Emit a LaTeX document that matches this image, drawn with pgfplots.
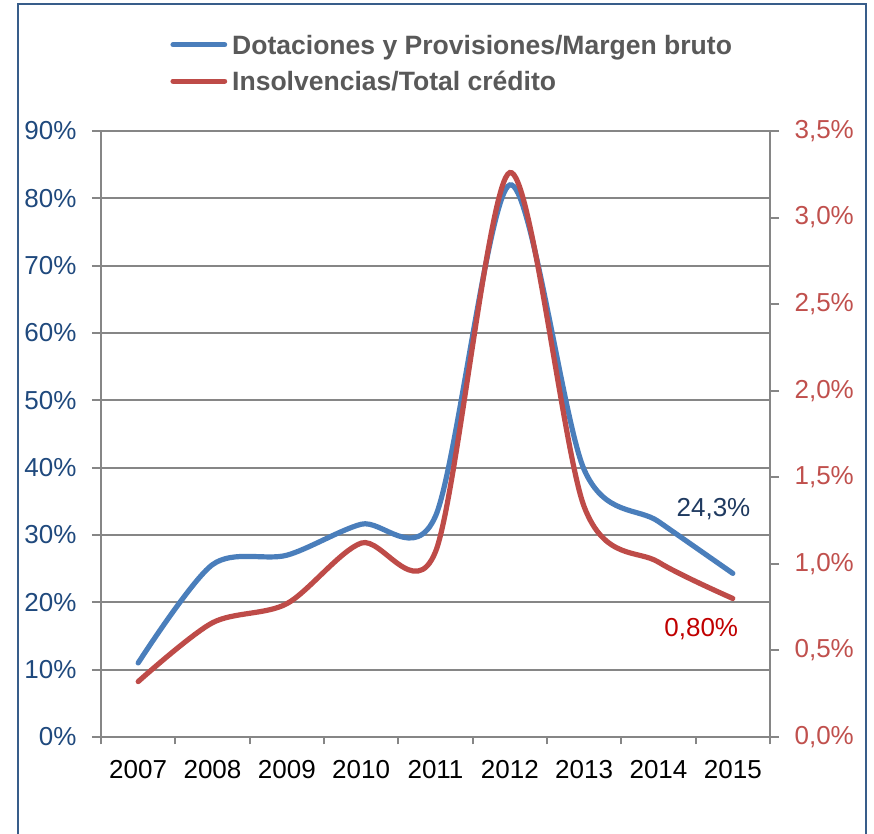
\documentclass[border=0pt]{standalone}
\usepackage{fontspec}
\setmainfont{Liberation Sans}
\usepackage{pgfplots}
\pgfplotsset{compat=1.18}
\definecolor{blueL}{HTML}{4A7EBB}
\definecolor{redL}{HTML}{BE4B48}
\definecolor{navy}{HTML}{1F497D}
\definecolor{navyD}{HTML}{1F3A60}
\definecolor{redT}{HTML}{C0504D}
\definecolor{darkred}{HTML}{C00000}
\definecolor{gridg}{HTML}{868686}
\definecolor{frame}{HTML}{385D8A}
\definecolor{legg}{HTML}{595959}
\newcommand{\tfont}{\fontsize{19.5}{23}\selectfont}
\begin{document}
\begin{tikzpicture}
\path[use as bounding box] (0,0) rectangle (655.5pt,624.75pt);
\draw[frame, line width=1.5pt] (13.5pt,-2pt) -- (13.5pt,622.1pt) -- (649.5pt,622.1pt) -- (649.5pt,-2pt);
\pgfplotsset{every axis/.append style={scale only axis, width=501.75pt, height=454.5pt,
  at={(75.75pt,72pt)}, anchor=south west, xmin=-0.5, xmax=8.5, tick align=outside,
  axis line style={gridg, line width=1.5pt}, tick style={gridg, line width=1.5pt},
  major tick length=6.75pt, minor tick length=5.5pt,
  tick label style={font=\tfont}}}
\begin{axis}[
  ymin=0, ymax=90,
  axis x line*=bottom, axis y line*=left,
  ytick={0,10,...,90},
  yticklabels={0\%,10\%,20\%,30\%,40\%,50\%,60\%,70\%,80\%,90\%},
  yticklabel style={text=navy, anchor=east, inner sep=0pt, xshift=-11.5pt},
  xtick={0,...,8},
  xticklabels={2007,2008,2009,2010,2011,2012,2013,2014,2015},
  xticklabel style={text=black, anchor=north, inner sep=0pt, yshift=-10.5pt},
  major x tick style={draw=none},
  minor xtick={-0.5,0.5,...,8.5},
  ymajorgrids, grid style={gridg, line width=1.5pt},
  legend cell align=left,
  legend style={at={(0.1034,1.1584)}, anchor=north west, draw=none, fill=none,
    inner sep=0pt, row sep=13pt, column sep=3.7pt,
    font=\fontsize{19.9}{24}\selectfont\bfseries,
    nodes={inner sep=0pt, text height=14.25pt, text depth=0pt, text=legg}},
  legend image code/.code={\draw[#1, line cap=round] (0pt,0pt) -- (38.7pt,0pt);},
]
\addplot[blueL, line width=3.9pt, line cap=round, smooth, tension=0.5] coordinates {
(0,11.0) (1,25.6) (2,27.0) (3,31.6) (4,32.8) (5,82.0) (6,39.7) (7,32.0) (8,24.3)};
\addlegendentry{Dotaciones y Provisiones/Margen bruto}
\addlegendimage{redL, line width=3.9pt}
\addlegendentry{Insolvencias/Total crédito}
\node[text=navyD, font=\tfont, inner sep=0pt] at (axis cs:7.74,33.9) {24,3\%};
\node[text=darkred, font=\tfont, inner sep=0pt] at (axis cs:7.575,16.04) {0,80\%};
\end{axis}
\begin{axis}[
  ymin=0, ymax=3.5,
  axis y line*=right, axis x line=none,
  ytick={0,0.5,...,3.5},
  yticklabels={{0,0\%},{0,5\%},{1,0\%},{1,5\%},{2,0\%},{2,5\%},{3,0\%},{3,5\%}},
  yticklabel style={text=redT, anchor=west, inner sep=0pt, xshift=11.5pt},
]
\addplot[redL, line width=3.9pt, line cap=round, smooth, tension=0.5] coordinates {
(0,0.32) (1,0.66) (2,0.77) (3,1.12) (4,1.07) (5,3.26) (6,1.33) (7,1.01) (8,0.80)};
\end{axis}
\end{tikzpicture}
\end{document}
